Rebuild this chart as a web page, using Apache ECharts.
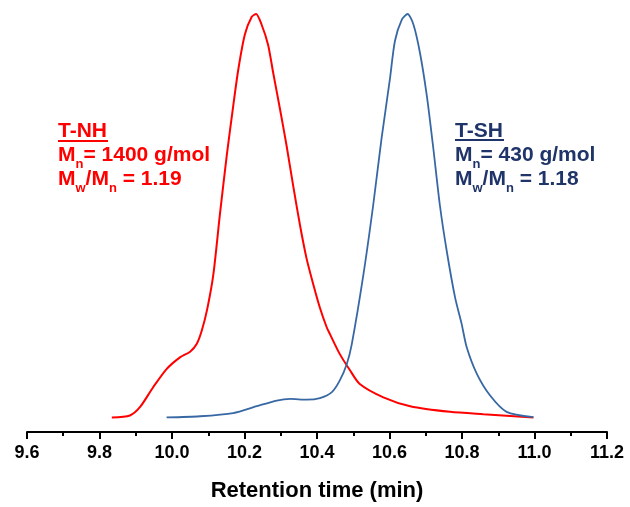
<!DOCTYPE html>
<html>
<head>
<meta charset="utf-8">
<script src="https://cdn.jsdelivr.net/npm/echarts@6/dist/echarts.min.js"></script>
<style>html,body{margin:0;padding:0;background:#fff;}#c{width:630px;height:507px;}</style>
</head>
<body>
<div id="c"></div>
<script>
// Retention time (min) and normalized detector response
const tnhTime = [9.834, 9.884, 9.912, 9.948, 9.985, 10.022, 10.050, 10.068, 10.082, 10.097, 10.114, 10.132, 10.151, 10.169, 10.183, 10.201, 10.220, 10.232, 10.247, 10.265, 10.279, 10.298, 10.316, 10.334, 10.353, 10.371, 10.390, 10.408, 10.427, 10.436, 10.463, 10.491, 10.518, 10.583, 10.657, 10.767, 10.859, 10.997];
const tnhSignal = [0.000, 0.005, 0.026, 0.075, 0.120, 0.149, 0.163, 0.182, 0.215, 0.268, 0.354, 0.502, 0.649, 0.773, 0.863, 0.949, 0.993, 1.000, 0.974, 0.924, 0.855, 0.764, 0.674, 0.576, 0.477, 0.395, 0.329, 0.272, 0.223, 0.206, 0.157, 0.117, 0.083, 0.050, 0.028, 0.014, 0.008, 0.000];
const tshTime = [9.985, 10.077, 10.169, 10.234, 10.289, 10.326, 10.372, 10.408, 10.441, 10.463, 10.482, 10.496, 10.528, 10.555, 10.578, 10.601, 10.615, 10.634, 10.650, 10.666, 10.684, 10.703, 10.721, 10.739, 10.758, 10.781, 10.799, 10.813, 10.841, 10.877, 10.923, 10.997];
const tshSignal = [0.000, 0.003, 0.011, 0.028, 0.042, 0.046, 0.044, 0.048, 0.063, 0.092, 0.132, 0.182, 0.354, 0.526, 0.691, 0.838, 0.933, 0.986, 1.000, 0.974, 0.904, 0.797, 0.666, 0.526, 0.412, 0.297, 0.232, 0.174, 0.108, 0.055, 0.014, 0.001];
const xTicks = ['9.6', '9.8', '10.0', '10.2', '10.4', '10.6', '10.8', '11.0', '11.2'];
const xTitle = 'Retention time (min)';

const RED = '#FF0000', BLUE_LINE = '#3868A4', BLUE_TEXT = '#1F3468';
const FONT = 'Liberation Sans, Arial, sans-serif';

function pairs(xs, ys) { return xs.map((x, i) => [x, ys[i]]); }

function rich(color) {
  return {
    b: { fontSize: 21, fontWeight: 'bold', fontFamily: FONT, fill: color, color: color, lineHeight: 27, verticalAlign: 'top', padding: [0,0,0,0] },
    s: { fontSize: 13, fontWeight: 'bold', fontFamily: FONT, fill: color, color: color, verticalAlign: 'top', padding: [13,0,0,0] }
  };
}
function label(x, y, text, color) {
  return { type: 'text', x: x, y: y, z: 10, style: { text: text, rich: rich(color), fill: color, textVerticalAlign: 'top' } };
}

const chart = echarts.init(document.getElementById('c'), null, { renderer: 'canvas' });
chart.setOption({
  animation: false,
  backgroundColor: '#fff',
  grid: { left: 27, right: 23, top: 14, bottom: 72, containLabel: false },
  xAxis: {
    type: 'value', min: 9.6, max: 11.2, interval: 0.2,
    name: xTitle, nameLocation: 'middle', nameGap: 48,
    nameTextStyle: { fontSize: 22, fontWeight: 'bold', fontFamily: FONT, color: '#000' },
    axisLine: { show: true, onZero: false, lineStyle: { color: '#000', width: 2 } },
    axisTick: { show: true, inside: false, length: 7, lineStyle: { color: '#000', width: 2 } },
    minorTick: { show: true, splitNumber: 2, length: 4, lineStyle: { color: '#000', width: 2 } },
    splitLine: { show: false },
    axisLabel: { fontSize: 18, fontWeight: 'bold', fontFamily: FONT, color: '#000', margin: 12,
      formatter: (v) => { const i = Math.round((v - 9.6) / 0.2); return xTicks[i] || ''; } }
  },
  yAxis: { type: 'value', min: -0.036, max: 1.0, show: false, splitLine: { show: false } },
  series: [
    { name: 'T-NH', type: 'line', data: pairs(tnhTime, tnhSignal), showSymbol: false, smooth: 0.25,
      lineStyle: { color: RED, width: 2 }, itemStyle: { color: RED } },
    { name: 'T-SH', type: 'line', data: pairs(tshTime, tshSignal), showSymbol: false, smooth: 0.25,
      lineStyle: { color: BLUE_LINE, width: 1.8 }, itemStyle: { color: BLUE_LINE } }
  ],
  graphic: [
    label(58, 121, '{b|T-NH}', RED),
    { type: 'line', shape: { x1: 58, y1: 141, x2: 108, y2: 141 }, style: { stroke: RED, lineWidth: 2 } },
    label(58, 145, '{b|M}{s|n}{b|= 1400 g/mol}', RED),
    label(58, 169, '{b|M}{s|w}{b|/M}{s|n}{b| = 1.19}', RED),
    label(455, 121, '{b|T-SH}', BLUE_TEXT),
    { type: 'line', shape: { x1: 455, y1: 140, x2: 504, y2: 140 }, style: { stroke: BLUE_TEXT, lineWidth: 2 } },
    label(455, 145, '{b|M}{s|n}{b|= 430 g/mol}', BLUE_TEXT),
    label(455, 169, '{b|M}{s|w}{b|/M}{s|n}{b| = 1.18}', BLUE_TEXT)
  ]
});
</script>
</body>
</html>
